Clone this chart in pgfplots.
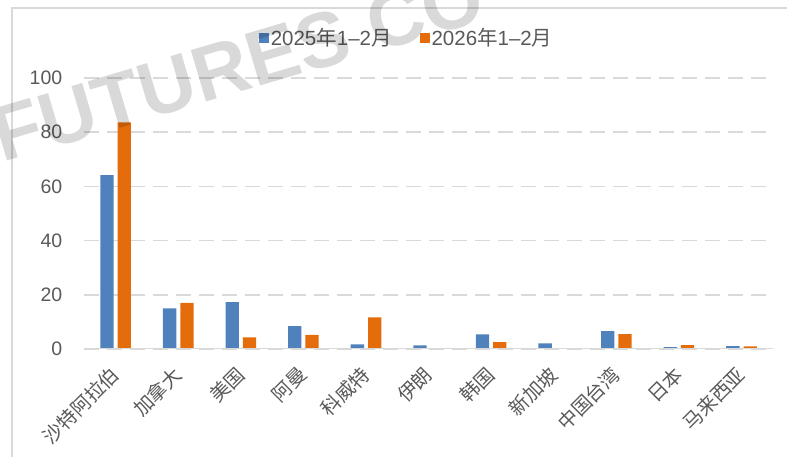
\documentclass[border=0pt]{standalone}
\usepackage{pgfplots}
\pgfplotsset{compat=1.18}
\usepackage{fontspec}
\setmainfont{Liberation Sans}
\newfontfamily\cjk{Noto Sans CJK SC}
\definecolor{cblue}{RGB}{79,129,189}
\definecolor{corange}{RGB}{228,108,10}
\definecolor{tgray}{RGB}{89,89,89}
\definecolor{lgray}{RGB}{217,217,217}
\begin{document}
\begin{tikzpicture}
\path[use as bounding box] (-84.4pt,-108pt) rectangle (702.6pt,349pt);
\begin{axis}[
  scale only axis,
  anchor=south west,
  at={(0pt,0pt)},
  width=688.4pt, height=271pt,
  ybar, bar width=13.3pt, ybar=4pt,
  xmin=-0.5, xmax=10.5, ymin=0, ymax=100,
  xtick={0,...,10},
  xticklabels={沙特阿拉伯,加拿大,美国,阿曼,科威特,伊朗,韩国,新加坡,中国台湾,日本,马来西亚},
  ytick={0,20,...,100},
  major tick length=0pt,
  axis line style={draw=none},
  ymajorgrids,
  grid style={lgray, line width=1.6pt, dash pattern=on 15pt off 8pt},
  /pgf/number format/assume math mode=true,
  yticklabel style={font=\fontsize{19.5}{19.5}\selectfont, text=tgray, inner sep=0pt, anchor=east, xshift=-22pt},
  xticklabel style={font=\cjk\fontsize{19.5}{19.5}\selectfont, text=tgray, inner sep=0pt, rotate=45, anchor=east},
  xticklabel shift=22pt,
  legend style={at={(0.468,1.148)}, anchor=center, draw=none, fill=none,
     legend columns=2, font=\fontsize{20.5}{20.5}\selectfont, text=tgray,
     /tikz/every even column/.append style={column sep=26pt}, inner sep=0pt,
     legend cell align=left},
  legend image code/.code={\fill[#1] (0pt,-5pt) rectangle (10pt,5pt);},
]
\addplot[fill=cblue, draw=none] coordinates {(0,64.2) (1,15.0) (2,17.3) (3,8.4) (4,1.7) (5,1.3) (6,5.4) (7,2.1) (8,6.6) (9,0.7) (10,1.1)};
\addplot[fill=corange, draw=none] coordinates {(0,83.6) (1,17.0) (2,4.3) (3,5.2) (4,11.7) (5,0) (6,2.5) (7,0) (8,5.5) (9,1.4) (10,1.0)};
\legend{2025{\cjk 年}1–2{\cjk 月}, 2026{\cjk 年}1–2{\cjk 月}}
\draw[lgray, line width=1.6pt] (rel axis cs:0,0) -- (rel axis cs:1,0);
\end{axis}
\draw[lgray, line width=1.5pt] (-72.4pt,-120pt) -- (-72.4pt,341pt) -- (720pt,341pt);
\node[rotate=16.5, anchor=base west, inner sep=0pt, text=black, opacity=0.15,
  font=\bfseries\fontsize{78}{78}\selectfont] at (-82pt,186pt) {FUTURES CO};
\end{tikzpicture}
\end{document}
